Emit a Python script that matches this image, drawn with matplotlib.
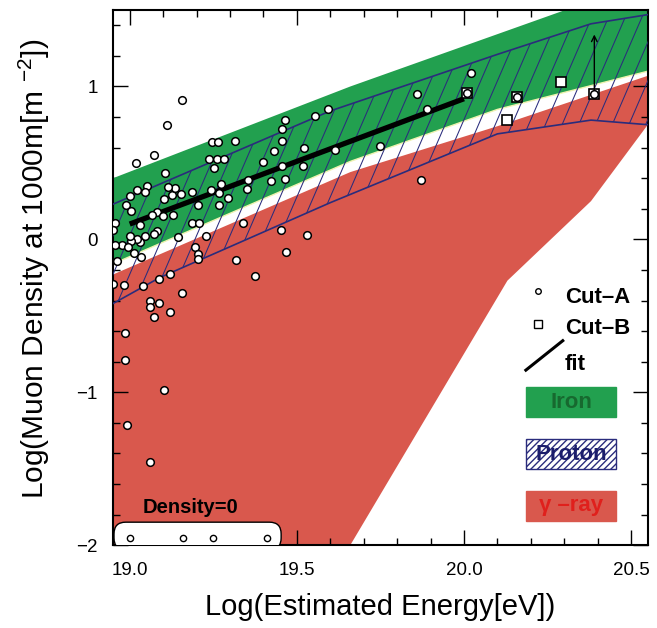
import numpy as np
import matplotlib
matplotlib.use('Agg')
import matplotlib.pyplot as plt
from matplotlib.patches import Polygon, Rectangle, FancyBboxPatch
from matplotlib.ticker import MultipleLocator

plt.rcParams['font.family'] = ['Liberation Sans', 'DejaVu Sans']
plt.rcParams['mathtext.fontset'] = 'custom'
plt.rcParams['mathtext.rm'] = 'Liberation Sans'

# simulated bands: edges in (log E, log rho)
iron_x = [18.95, 19.66, 20.29, 20.55]
iron_hi = [0.40, 1.00, 1.49, 1.70]
iron_lo_x = [18.95, 19.66, 20.10, 20.55]
iron_lo = [-0.16, 0.51, 0.85, 1.10]

prot_hi_x = [18.95, 19.60, 20.10, 20.38, 20.55]
prot_hi = [0.23, 0.84, 1.21, 1.41, 1.47]
prot_lo_x = [18.95, 19.09, 19.60, 20.10, 20.38, 20.55]
prot_lo = [-0.42, -0.25, 0.24, 0.69, 0.78, 0.75]

gam_hi_x = [18.95, 19.66, 20.10, 20.55]
gam_hi = [-0.23, 0.44, 0.74, 1.07]
gam_lo_x = [18.95, 19.66, 20.13, 20.38, 20.55]
gam_lo = [-2.05, -2.0, -0.27, 0.25, 0.75]

# Cut-A events
cutA_x = [19.155, 19.112, 19.073, 19.020, 19.106, 19.245, 19.263, 19.314, 19.237, 19.260,
          19.281, 19.252, 19.400, 19.432, 19.456, 19.457, 19.464, 19.554, 19.592, 19.521,
          19.518, 19.614, 19.455, 19.466, 19.422, 19.355, 19.352, 19.272, 19.266, 19.294,
          19.266, 19.242, 19.205, 19.186, 19.154, 19.126, 19.134, 19.116, 19.104, 19.053,
          19.047, 19.021, 19.000, 18.988, 19.005, 19.082, 19.068, 19.101, 19.128, 19.032,
          19.083, 19.072, 19.045, 19.031, 19.022, 19.003, 19.000, 19.013, 19.034, 18.977,
          18.994, 18.955, 18.957, 18.950, 18.963, 19.186, 19.206, 19.143, 19.228, 19.194,
          19.205, 19.203, 19.318, 19.339, 19.376, 19.122, 19.088, 19.452, 19.467, 19.530,
          18.950, 18.982, 19.040, 19.155, 19.062, 19.088, 19.060, 19.121, 19.074, 18.987,
          18.985, 19.102, 18.991, 19.060,
          20.02, 20.01, 19.86, 19.89, 19.75, 19.87, 20.16, 20.39]
cutA_y = [0.913, 0.750, 0.551, 0.497, 0.433, 0.638, 0.634, 0.645, 0.527, 0.523,
          0.527, 0.466, 0.508, 0.575, 0.641, 0.725, 0.782, 0.804, 0.852, 0.595,
          0.479, 0.586, 0.482, 0.394, 0.379, 0.390, 0.329, 0.359, 0.305, 0.268,
          0.224, 0.320, 0.222, 0.312, 0.296, 0.292, 0.335, 0.344, 0.261, 0.346,
          0.307, 0.325, 0.281, 0.227, 0.183, 0.179, 0.157, 0.150, 0.157, 0.096,
          0.052, 0.037, 0.020, -0.017, 0.000, -0.009, 0.024, -0.089, -0.118, -0.039,
          -0.050, -0.039, 0.109, 0.063, -0.139, 0.107, 0.107, 0.013, 0.024, -0.052,
          -0.096, -0.129, -0.133, 0.107, -0.237, -0.227, -0.259, 0.061, -0.085, 0.028,
          -0.290, -0.296, -0.305, -0.351, -0.401, -0.416, -0.440, -0.473, -0.505, -0.614,
          -0.789, -0.985, -1.214, -1.456,
          1.09, 0.96, 0.95, 0.85, 0.61, 0.39, 0.93, 0.95]

# Cut-B events
cutB_x = [20.01, 20.16, 20.13, 20.29, 20.39]
cutB_y = [0.96, 0.93, 0.78, 1.03, 0.95]

# events with zero muon density
zero_x = [19.002, 19.16, 19.25, 19.41]
zero_y = [-1.955, -1.955, -1.955, -1.955]

# linear fit
fit_x = [19.0, 20.0]
fit_y = [0.10, 0.92]

green = '#22a04f'
red = '#d9584d'
navy = '#2a2c7c'

fig = plt.figure(figsize=(6.57, 6.28), dpi=100)
ax = fig.add_axes([0.172, 0.132, 0.814, 0.852])

def band(xh, yh, xl, yl):
    return np.column_stack([np.r_[xh, xl[::-1]], np.r_[yh, yl[::-1]]])

ax.add_patch(Polygon(band(gam_hi_x, gam_hi, gam_lo_x, gam_lo), closed=True,
                     facecolor=red, edgecolor='none', zorder=1))
ax.add_patch(Polygon(band(iron_x, iron_hi, iron_lo_x, iron_lo), closed=True,
                     facecolor=green, edgecolor='none', zorder=2))
ax.plot(iron_lo_x, iron_lo, color='#eef3b0', lw=1.0, zorder=2)

prot = Polygon(band(prot_hi_x, prot_hi, prot_lo_x, prot_lo), closed=True,
               facecolor='none', edgecolor='none', zorder=3)
ax.add_patch(prot)
for c in np.arange(18.2, 20.7, 0.05):
    ln, = ax.plot([c, c + 0.8], [-2.0, -2.0 + 0.8 * 5.06], color=navy, lw=0.75, zorder=3)
    ln.set_clip_path(prot)
ax.plot(prot_hi_x, prot_hi, color=navy, lw=1.2, zorder=3)
ax.plot(prot_lo_x, prot_lo, color=navy, lw=1.2, zorder=3)

# box for zero-density events
ax.add_patch(FancyBboxPatch((18.953, -2.03), 0.50, 0.18,
                            boxstyle='round,pad=0,rounding_size=0.035',
                            mutation_aspect=334 / 153,
                            facecolor='white', edgecolor='black', lw=1.0, zorder=4))
ax.text(0.056, 0.071, 'Density=0', transform=ax.transAxes, fontsize=14.5,
        fontweight='bold', va='center', ha='left', zorder=5)

ax.plot(fit_x, fit_y, color='black', lw=3.8, solid_capstyle='butt', zorder=5)

ax.plot(cutB_x, cutB_y, 's', ms=7.5, mfc='white', mec='black', mew=1.2, zorder=6)
ax.plot(cutA_x, cutA_y, 'o', ms=5.5, mfc='white', mec='black', mew=1.1, zorder=7)
ax.plot(zero_x, zero_y, 'o', ms=4.5, mfc='white', mec='black', mew=1.0, zorder=7)

ax.annotate('', xy=(20.39, 1.34), xytext=(20.39, 0.98),
            arrowprops=dict(arrowstyle='->', lw=1.0, color='black',
                            shrinkA=0, shrinkB=0), zorder=8)

# legend drawn by hand
T = ax.transAxes
ax.plot([0.795], [0.475], 'o', ms=4, mfc='white', mec='black', mew=1.0,
        transform=T, clip_on=False, zorder=9)
ax.text(0.845, 0.462, 'Cut\u2013A', transform=T, fontsize=16, fontweight='bold',
        va='center', ha='left', zorder=9)
ax.plot([0.794], [0.414], 's', ms=6, mfc='white', mec='black', mew=1.0,
        transform=T, clip_on=False, zorder=9)
ax.text(0.845, 0.404, 'Cut\u2013B', transform=T, fontsize=16, fontweight='bold',
        va='center', ha='left', zorder=9)
ax.plot([0.772, 0.841], [0.327, 0.382], color='black', lw=2.2,
        transform=T, clip_on=False, zorder=9)
ax.text(0.845, 0.338, 'fit', transform=T, fontsize=16, fontweight='bold',
        va='center', ha='left', zorder=9)

boxes = [(0.239, green, None, 'Iron', '#17692f'),
         (0.1415, 'white', '/////', 'Proton', '#1b1d6b'),
         (0.0454, red, None, '\u03b3 \u2013ray', '#e0201c')]
for y0, fc, hatch, label, tc in boxes:
    r = Rectangle((0.773, y0), 0.168, 0.056, transform=T, facecolor=fc,
                  edgecolor=navy if hatch else fc, hatch=hatch, lw=1.0, zorder=9)
    ax.add_patch(r)
    ax.text(0.857, y0 + 0.028, label, transform=T, fontsize=16, fontweight='bold',
            color=tc, ha='center', va='center', zorder=10)

ax.set_xlim(18.95, 20.55)
ax.set_ylim(-2.0, 1.5)
ax.xaxis.set_major_locator(MultipleLocator(0.5))
ax.xaxis.set_minor_locator(MultipleLocator(0.1))
ax.yaxis.set_major_locator(MultipleLocator(1))
ax.yaxis.set_minor_locator(MultipleLocator(0.2))
ax.set_xticks([19.0, 19.5, 20.0, 20.5])
ax.set_xticklabels(['19.0', '19.5', '20.0', '20.5'])
ax.set_yticks([-2, -1, 0, 1])
ax.set_yticklabels(['\u22122', '\u22121', '0', '1'])
ax.tick_params(which='both', direction='in', top=True, right=True,
               labelsize=13.5, width=1.0)
ax.tick_params(axis='x', which='major', length=11, pad=12)
ax.tick_params(axis='y', which='major', length=11, pad=11)
ax.tick_params(which='minor', length=5)
for s in ax.spines.values():
    s.set_linewidth(1.5)

ax.set_xlabel('Log(Estimated Energy[eV])', fontsize=21)
ax.set_ylabel('Log(Muon Density at 1000m[m $^{-2}$])', fontsize=21.5)
ax.xaxis.set_label_coords(0.5, -0.09)
ax.yaxis.set_label_coords(-0.114, 0.516)

fig.savefig('out.png', dpi=100)
